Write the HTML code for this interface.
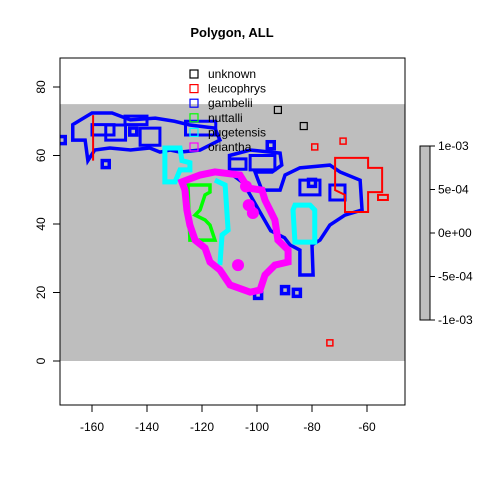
<!DOCTYPE html>
<html><head><meta charset="utf-8"><style>
body{margin:0;background:#fff;}
svg text{font-family:"Liberation Sans",Arial,sans-serif;font-size:12px;fill:#000;}
</style></head><body>
<svg id="chart" width="480" height="480" viewBox="0 0 480 480" xmlns="http://www.w3.org/2000/svg">
<rect width="480" height="480" fill="#fff"/>
<text x="232" y="37" text-anchor="middle" style="font-weight:bold;font-size:13px">Polygon, ALL</text>
<defs><clipPath id="plotclip"><rect x="60" y="58" width="345" height="347"/></clipPath></defs>
<g id="plot" clip-path="url(#plotclip)"></g>
<rect x="60" y="58" width="345" height="347" fill="none" stroke="#000"/>
<g id="axes"></g>
<g id="legend"></g>
<g id="colorbar"></g>
</svg>
<script>
const xTicks=[-160,-140,-120,-100,-80,-60];
const yTicks=[0,20,40,60,80];
const legendNames=["unknown","leucophrys","gambelii","nuttalli","pugetensis","oriantha"];
const legendColors=["#000","#f00","#00f","#0f0","#0ff","#f0f"];
const cbLabels=["1e-03","5e-04","0e+00","-5e-04","-1e-03"];
const cbValues=[0.001,0.0005,0,-0.0005,-0.001];
const grayBand=[-180,-40,0,75];
const gambeliiWest=[[-167,69],[-160,72.4],[-152.7,72.4],[-146,70.4],[-137,70.9],[-130,70],[-124.4,68.9],[-115.3,68],[-113.5,64.5],[-120.7,61.6],[-128,61],[-131.6,61.6],[-135.3,61],[-139,62.2],[-146,61.6],[-153.5,62.2],[-159,61.6],[-161.5,58.5],[-162.5,64.5],[-167,64.5]];
const gambeliiEast=[[-110,60],[-102.5,61.6],[-91.6,60.7],[-91,57.2],[-94.5,55.2],[-100.7,55.2],[-99.6,52.8],[-98.2,49.9],[-91.6,49.9],[-89.8,54.3],[-84.4,56.4],[-73.5,57.2],[-69.8,55.2],[-62.5,52.8],[-61.8,44.1],[-68,42.6],[-73.5,39.7],[-77.1,35.3],[-80,33.9],[-79.6,25.1],[-84.4,25.1],[-84.4,32.4],[-88,33.9],[-90,36],[-95,38],[-100,45],[-105,52],[-110,55]];
const gambeliiLoops=[[-155,64.5,-147.8,68.9],[-142.5,63,-135.3,68],[-126,66,-115,70],[-160,66,-152,69],[-148,69,-140,71.5],[-102.5,55.8,-93.5,60],[-84.4,48.5,-77.1,52.8],[-73.5,47,-68,51.4],[-110,56,-104,59]];
const gambeliiDots=[[-171,64.5],[-89.8,20.7],[-85.5,19.9],[-99.6,19.3],[-155,57.5],[-145,67],[-95,63],[-80,52]];
const leucoMain=[[-71.6,59.3],[-59.6,59.3],[-59.6,56.4],[-54.5,56.4],[-54.5,49.3],[-59.6,49.3],[-59.6,43.5],[-68,43.5],[-68,48.5],[-71.6,49.9]];
const leucoBox=[[-56,48.5],[-52.4,48.5],[-52.4,47],[-56,47]];
const leucoLine=[[-159.6,71.8],[-159.6,58.5]];
const leucoSquares=[[-79,62.5],[-68.7,64.2],[-73.5,5.3]];
const unknownSquares=[[-92.4,73.3],[-83,68.6]];
const pugetWest=[[-133.5,62.2],[-128,62.2],[-127.3,58.5],[-124.4,57.9],[-124.4,55.8],[-128,55.8],[-129.8,52.3],[-133.5,52.3]];
const pugetMid=[[-115.3,52.8],[-111.6,51.4],[-110.5,38.2],[-112.7,36.8],[-113.5,28]];
const pugetEast=[[-86.2,45.5],[-80.7,45.5],[-79,44.1],[-79,34.7],[-86.2,34.7],[-86.9,44.1]];
const nuttalli=[[-125.1,51.4],[-117.1,51.4],[-117.1,49.3],[-118.9,48.5],[-120.7,44.1],[-122.5,42.6],[-118.9,41.2],[-117.1,39.7],[-115.3,35.3],[-124.4,35.3]];
const oriantha=[[-127.3,52.3],[-120.7,54.3],[-115.3,55.2],[-106.2,54.3],[-103.3,50.5],[-98.2,49.9],[-97.1,47],[-95.3,44.1],[-93.5,41.2],[-92.4,35.3],[-88.7,32.4],[-88.7,28.9],[-93.5,28],[-97.1,25.1],[-98.9,20.7],[-102.5,20.1],[-109.8,22.2],[-113.5,26.6],[-117.1,28.9],[-118.9,33],[-122.5,35.3],[-124.4,39.7],[-125.5,44.1],[-126.2,49.9]];
const orianthaBlobs=[[-106.9,28],[-103,45.5],[-101.5,43.2],[-104,51]];

const NS="http://www.w3.org/2000/svg";
const x=v=>92+(v+160)*2.75;
const y=v=>361-v*3.425;
function mk(tag,parent,attrs){const e=document.createElementNS(NS,tag);for(const k in attrs)e.setAttribute(k,attrs[k]);parent.appendChild(e);return e;}
const plot=document.getElementById('plot');
const band=mk('rect',plot,{x:x(grayBand[0]),y:y(grayBand[3]),width:x(grayBand[1])-x(grayBand[0]),height:y(grayBand[2])-y(grayBand[3]),fill:'#bebebe'});


function poly(pts,color,w,name,closed=true){
  const e=mk(closed?'polygon':'polyline',plot,{points:pts.map(p=>x(p[0])+','+y(p[1])).join(' '),fill:'none',stroke:color,'stroke-width':w,'stroke-linejoin':'miter'});
  
  
}
function sq(p,s,color,w,name){
  const e=mk('rect',plot,{x:x(p[0])-s/2,y:y(p[1])-s/2,width:s,height:s,fill:'none',stroke:color,'stroke-width':w});
  
  
}
poly(gambeliiWest,'#00f',3.5,'gambelii-west');
poly(gambeliiEast,'#00f',3.5,'gambelii-east');
gambeliiLoops.forEach(b=>poly([[b[0],b[1]],[b[2],b[1]],[b[2],b[3]],[b[0],b[3]]],'#00f',3,'gambelii-loop'));
gambeliiDots.forEach(p=>sq(p,7,'#00f',3.5,'gambelii-patch'));
poly(leucoMain,'#f00',2,'leucophrys-main');
poly(leucoBox,'#f00',2,'leucophrys-box');
poly(leucoLine,'#f00',2,'leucophrys-line',false);
leucoSquares.forEach(p=>sq(p,6,'#f00',1.5,'leucophrys-patch'));
unknownSquares.forEach(p=>sq(p,7,'#000',1.2,'unknown-patch'));
poly(pugetWest,'#0ff',5,'pugetensis-west');
poly(pugetMid,'#0ff',5,'pugetensis-mid',false);
poly(pugetEast,'#0ff',5,'pugetensis-east');
poly(nuttalli,'#0f0',3.5,'nuttalli');
poly(oriantha,'#f0f',7,'oriantha');
orianthaBlobs.forEach(p=>{const c=mk('circle',plot,{cx:x(p[0]),cy:y(p[1]),r:6,fill:'#f0f'});
  
  });

const axes=document.getElementById('axes');
xTicks.forEach(v=>{
  const l=mk('line',axes,{x1:x(v),x2:x(v),y1:405,y2:412,stroke:'#000'});
  
  
  const t=mk('text',axes,{x:x(v),y:431,'text-anchor':'middle'});t.textContent=v;
  
  
});
yTicks.forEach(v=>{
  const l=mk('line',axes,{x1:53,x2:60,y1:y(v),y2:y(v),stroke:'#000'});
  
  
  const t=mk('text',axes,{x:0,y:0,'text-anchor':'middle',transform:`translate(45,${y(v)}) rotate(-90)`});t.textContent=v;
  
  
});
const leg=document.getElementById('legend');
legendNames.forEach((n,i)=>{
  const yy=74+i*14.6;
  const r=mk('rect',leg,{x:190,y:yy-4,width:8,height:8,fill:'none',stroke:legendColors[i],'stroke-width':1.2});
  
  
  const t=mk('text',leg,{x:208,y:yy+4});t.textContent=n;
  
  
});
const cb=document.getElementById('colorbar');
const cy=v=>233-v/0.001*87;
const cbr=mk('rect',cb,{x:420,y:cy(0.001),width:10,height:cy(-0.001)-cy(0.001),fill:'#bebebe',stroke:'#000'});


cbValues.forEach((v,i)=>{
  const l=mk('line',cb,{x1:430,x2:435,y1:cy(v),y2:cy(v),stroke:'#000'});
  
  
  const t=mk('text',cb,{x:438,y:cy(v)+4});t.textContent=cbLabels[i];
  
  
});
</script>
</body></html>
